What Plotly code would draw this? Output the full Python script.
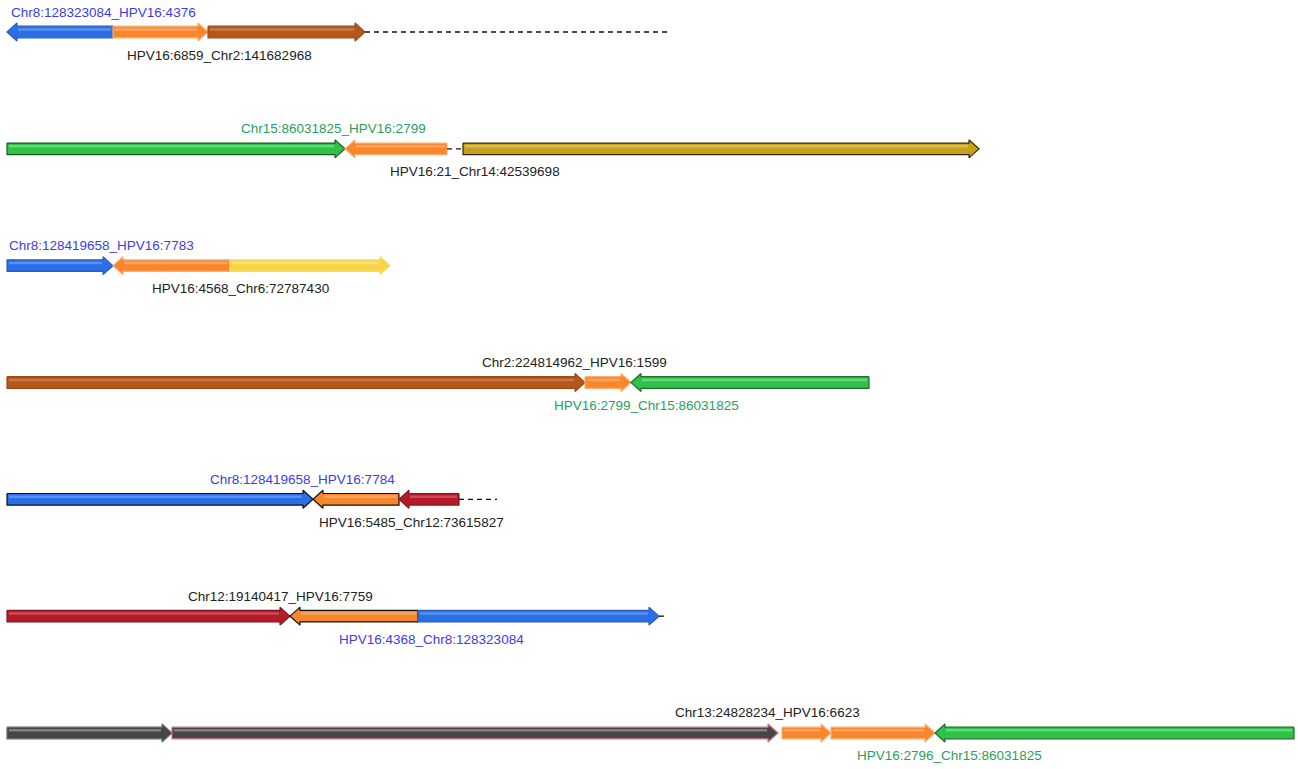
import plotly.graph_objects as go

# ---------------- data ----------------
# fusion rows (top to bottom)
rows = [0, 1, 2, 3, 4, 5, 6]

# segments: row, start, end, direction (+1 right, -1 left), source
seg_row = [0, 0, 0,
           1, 1, 1,
           2, 2, 2,
           3, 3, 3,
           4, 4, 4,
           5, 5, 5,
           6, 6, 6, 6, 6]
seg_start = [7, 113, 208,
             7, 345, 463,
             7, 113, 230,
             7, 585, 631,
             7, 313, 399,
             7, 290, 418,
             7, 172, 782, 831, 935]
seg_end = [113, 208, 365,
           345, 447, 979,
           113, 230, 390,
           585, 631, 869,
           313, 399, 459,
           290, 418, 659,
           172, 778, 831, 935, 1294]
seg_dir = [-1, 1, 1,
           1, -1, 1,
           1, -1, 1,
           1, 1, -1,
           1, -1, -1,
           1, -1, 1,
           1, 1, 1, 1, -1]
seg_src = ["Chr8", "HPV16", "Chr2",
           "Chr15", "HPV16", "Chr14",
           "Chr8", "HPV16", "Chr6",
           "Chr2", "HPV16", "Chr15",
           "Chr8", "HPV16", "Chr12",
           "Chr12", "HPV16", "Chr8",
           "Chr13", "Chr13", "HPV16", "HPV16", "Chr15"]

# dashed connector lines: row, start, end
gap_row = [0, 1, 4, 5]
gap_start = [365, 447, 459, 659]
gap_end = [668, 463, 497, 667]

# junction labels: text, row, x (left edge), side
label_text = ["Chr8:128323084_HPV16:4376", "HPV16:6859_Chr2:141682968",
              "Chr15:86031825_HPV16:2799", "HPV16:21_Chr14:42539698",
              "Chr8:128419658_HPV16:7783", "HPV16:4568_Chr6:72787430",
              "Chr2:224814962_HPV16:1599", "HPV16:2799_Chr15:86031825",
              "Chr8:128419658_HPV16:7784", "HPV16:5485_Chr12:73615827",
              "Chr12:19140417_HPV16:7759", "HPV16:4368_Chr8:128323084",
              "Chr13:24828234_HPV16:6623", "HPV16:2796_Chr15:86031825"]
label_row = [0, 0, 1, 1, 2, 2, 3, 3, 4, 4, 5, 5, 6, 6]
label_x = [9, 125, 239, 388, 7, 150, 480, 552, 208, 317, 186, 337, 673, 855]
label_side = ["above", "below"] * 7

# ---------------- style ----------------
fill_col = {"Chr8": "#2b6ee6", "HPV16": "#f7862c", "Chr2": "#b5561a",
            "Chr15": "#2ec24b", "Chr14": "#c6a01c", "Chr6": "#f6d443",
            "Chr12": "#b31b2b", "Chr13": "#464646"}
edge_col = {"Chr8": "#2a5fc0", "HPV16": "#ffad6e", "Chr2": "#9a4a18",
            "Chr15": "#1f6e2a", "Chr14": "#2e2600", "Chr6": "#f8dc6a",
            "Chr12": "#8a1420", "Chr13": "#6a6a6a"}
hi_col = {"Chr8": "#6aa2f4", "HPV16": "#fbb27a", "Chr2": "#d08a5a",
          "Chr15": "#7ee08e", "Chr14": "#e2cc6c", "Chr6": "#fae68c",
          "Chr12": "#d8606a", "Chr13": "#9a9a9a"}
# segment index -> edge override
edge_override = {12: "#111111", 13: "#111111", 16: "#111111", 3: "#1a5a20",
                 19: "#d07070"}
label_col = {"Chr8": "#3b3bf0", "Chr15": "#2a9e5c"}

W, H = 1298, 769
row_px0, row_step = 32, 116.83
px_per_unit = row_step  # one row unit in pixels
body_h = 5.8 / px_per_unit
head_h = 9.0 / px_per_unit
head_len = 10

fig = go.Figure()


def arrow_poly(a, b, d, y):
    if d > 0:
        xs = [a, b - head_len, b - head_len, b, b - head_len, b - head_len, a, a]
    else:
        xs = [b, a + head_len, a + head_len, a, a + head_len, a + head_len, b, b]
    ys = [y - body_h, y - body_h, y - head_h, y, y + head_h, y + body_h, y + body_h, y - body_h]
    return xs, ys


for i in range(len(seg_row)):
    y = rows[seg_row[i]]
    xs, ys = arrow_poly(seg_start[i], seg_end[i], seg_dir[i], y)
    src = seg_src[i]
    fig.add_trace(go.Scatter(
        x=xs, y=ys, mode="lines", fill="toself",
        fillcolor=fill_col[src],
        line=dict(color=edge_override.get(i, edge_col[src]), width=1.2),
        hoverinfo="skip", showlegend=False))
    # highlight stripe on top of the body
    a, b = seg_start[i], seg_end[i]
    if seg_dir[i] > 0:
        hx = [a + 2, b - head_len - 1]
    else:
        hx = [a + head_len + 1, b - 2]
    yy = y - body_h * 0.45
    fig.add_trace(go.Scatter(
        x=hx, y=[yy, yy], mode="lines",
        line=dict(color=hi_col[src], width=2.5),
        opacity=0.7, hoverinfo="skip", showlegend=False))

for i in range(len(gap_row)):
    y = rows[gap_row[i]]
    fig.add_trace(go.Scatter(
        x=[gap_start[i], gap_end[i]], y=[y, y], mode="lines",
        line=dict(color="#111111", width=1.3, dash="5px,4px"),
        hoverinfo="skip", showlegend=False))

for i, t in enumerate(label_text):
    above = label_side[i] == "above"
    parts = t.split("_")
    chroms = [p.split(":")[0] for p in parts if not p.startswith("HPV")]
    col = label_col.get(chroms[0], "#222222") if chroms else "#222222"
    fig.add_annotation(
        x=label_x[i], y=rows[label_row[i]], text=t, showarrow=False,
        xanchor="left", yanchor="middle",
        yshift=20 if above else -23,
        font=dict(family="Liberation Sans, Arial", size=13.5, color=col))

top_u = -row_px0 / row_step
bot_u = (H - row_px0) / row_step
fig.update_layout(
    width=W, height=H, margin=dict(l=0, r=0, t=0, b=0),
    paper_bgcolor="white", plot_bgcolor="white",
    xaxis=dict(range=[0, W], visible=False, fixedrange=True),
    yaxis=dict(range=[bot_u, top_u], visible=False, fixedrange=True),
)
fig.write_html("out.html")
